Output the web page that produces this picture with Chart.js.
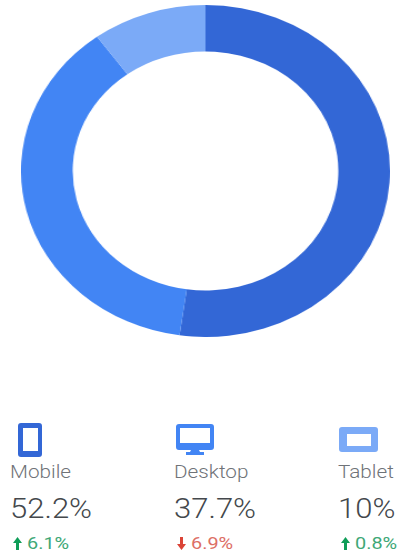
<!DOCTYPE html>
<html>
<head>
<meta charset="utf-8">
<script src="https://cdn.jsdelivr.net/npm/chart.js@4/dist/chart.umd.min.js"></script>
<style>
  html, body { margin: 0; padding: 0; background: #fff; }
  body { position: relative; width: 407px; height: 554px; overflow: hidden; font-family: Roboto, sans-serif; }
  /* The ring is drawn square and widened by CSS, which gives it its oval shape. */
  #ring { position: absolute; left: 21px; top: 5px; width: 369px !important; height: 332px !important; }
  /* Legend text shares the same horizontal widening. */
  .t { position: absolute; white-space: nowrap; line-height: 1; transform-origin: 0 0; transform: scaleX(1.15); }
  .name { font-size: 18px; font-weight: 300; color: #6f7378; top: 463px; }
  .share { font-size: 27px; font-weight: 300; color: #44484c; top: 496px; }
  .delta { font-size: 17px; top: 535px; transform: scaleX(1.17); }
  svg { position: absolute; overflow: visible; }
</style>
</head>
<body>
<canvas id="ring" width="332" height="332"></canvas>
<script>
const categories = ['Mobile', 'Desktop', 'Tablet'];
const shares = [52.2, 37.7, 10];
const shareLabels = ['52.2%', '37.7%', '10%'];
const changes = ['6.1%', '6.9%', '0.8%'];
const changeDirections = ['up', 'down', 'up'];
const colors = ['#3367d6', '#4285f4', '#7baaf7'];

const chart = new Chart(document.getElementById('ring'), {
  type: 'doughnut',
  data: {
    labels: categories,
    datasets: [{ data: shares, backgroundColor: colors, borderWidth: 0 }]
  },
  options: {
    responsive: false,
    animation: false,
    cutout: '72%',
    layout: { padding: 0 },
    plugins: { legend: { display: false }, tooltip: { enabled: false } }
  }
});

// Device glyphs and the column each legend entry sits in
const columns = [
  { x: 10, arrowX: 13, valueX: 27 },
  { x: 174, arrowX: 177, valueX: 191 },
  { x: 338, arrowX: 341, valueX: 355 }
];
const glyphs = [
  '<svg style="left:18px;top:423px" width="24" height="34"><path fill-rule="evenodd" fill="#3367d6" d="M3 0h18a3 3 0 0 1 3 3v28a3 3 0 0 1-3 3H3a3 3 0 0 1-3-3V3a3 3 0 0 1 3-3zM5 5v23h15V5z"/></svg>',
  '<svg style="left:176px;top:424px" width="38" height="31"><path fill-rule="evenodd" fill="#4285f4" d="M3 0h32a3 3 0 0 1 3 3v20a3 3 0 0 1-3 3H3a3 3 0 0 1-3-3V3a3 3 0 0 1 3-3zM4 4v15h30V4z"/><path d="M15 26h8l1 2h4v3H10v-3h4z" fill="#4285f4"/></svg>',
  '<svg style="left:339px;top:427px" width="39" height="25"><path fill-rule="evenodd" fill="#7baaf7" d="M3 0h33a3 3 0 0 1 3 3v19a3 3 0 0 1-3 3H3a3 3 0 0 1-3-3V3a3 3 0 0 1 3-3zM8 7v12h24V7z"/></svg>'
];
const arrowColors = { up: '#0f9d58', down: '#db4437' };
const valueColors = { up: '#3fa877', down: '#dd6f66' };

function addText(cls, x, text, color) {
  const el = document.createElement('div');
  el.className = 't ' + cls;
  el.style.left = x + 'px';
  if (color) el.style.color = color;
  el.textContent = text;
  document.body.appendChild(el);
}

categories.forEach((name, i) => {
  const col = columns[i];
  const dir = changeDirections[i];
  document.body.insertAdjacentHTML('beforeend', glyphs[i]);
  addText('name', col.x, name);
  addText('share', col.x, shareLabels[i]);
  const arrow = dir === 'up'
    ? 'M4.5 0L9 6H6v7H3V6H0z'
    : 'M4.5 13L9 7H6V0H3v7H0z';
  document.body.insertAdjacentHTML('beforeend',
    `<svg style="left:${col.arrowX}px;top:537px" width="9" height="13"><path d="${arrow}" fill="${arrowColors[dir]}"/></svg>`);
  addText('delta', col.valueX, changes[i], valueColors[dir]);
});
</script>
</body>
</html>
